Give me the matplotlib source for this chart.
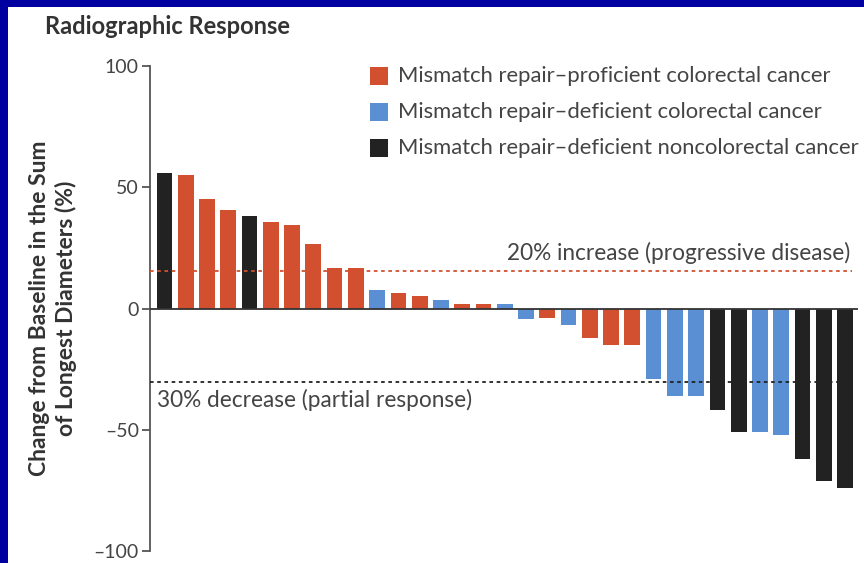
import matplotlib
matplotlib.use('agg')
import matplotlib.pyplot as plt
from matplotlib.patches import Rectangle

# ---- data ----
groups = ['Mismatch repair\u2013proficient colorectal cancer',
          'Mismatch repair\u2013deficient colorectal cancer',
          'Mismatch repair\u2013deficient noncolorectal cancer']
group_colors = ['#d2502f', '#5b8fd4', '#222222']

# 0 = proficient CRC, 1 = deficient CRC, 2 = deficient non-CRC
patient_group = [2, 0, 0, 0, 2, 0, 0, 0, 0, 0,
                 1, 0, 0, 1, 0, 0, 1, 1, 0, 1,
                 0, 0, 0, 1, 1, 1, 2, 2, 1, 1,
                 2, 2, 2]
change_pct = [56, 55, 45, 40.5, 38, 35.5, 34.5, 26.5, 16.5, 16.5,
              7.5, 6.2, 5, 3.3, 2, 2, 2, -4.5, -4, -7,
              -12, -15, -15, -29, -36, -36, -42, -51, -51, -52,
              -62, -71, -74]
yticks = [100, 50, 0, -50, -100]
increase_line = 15.5
decrease_line = -30.5

plt.rcParams['font.family'] = ['Lato', 'DejaVu Sans']

fig = plt.figure(figsize=(8.64, 5.63), dpi=100)
fig.patch.set_facecolor('#0000a0')
fig.patches.append(Rectangle((8 / 864, 0), 1, 1 - 7 / 563, transform=fig.transFigure,
                             facecolor='white', edgecolor='none', zorder=-5))

ax = fig.add_axes([150 / 864, 1 - 551 / 563, 708 / 864, 485 / 563])
ax.set_facecolor('none')

x = list(range(len(change_pct)))
colors = [group_colors[g] for g in patient_group]
ax.bar(x, change_pct, width=0.74, color=colors, zorder=2)

ax.set_xlim(-0.68, 32.61)
ax.set_ylim(-100, 100)
ax.axhline(0, color='#333333', lw=1.3, zorder=3)
ax.hlines(increase_line, -0.68, 32.35, colors='#d2502f', linestyles=(0, (2, 2)), lw=1.3, zorder=3)
ax.hlines(decrease_line, -0.68, 32.35, colors='#222222', linestyles=(0, (2, 2)), lw=1.3, zorder=3)

ax.text(32.25, increase_line + 3, '20% increase (progressive disease)', ha='right', va='bottom',
        fontsize=16.3, color='#444444')
ax.text(-0.35, decrease_line - 2.5, '30% decrease (partial response)', ha='left', va='top',
        fontsize=16.3, color='#444444')

for s in ['top', 'right', 'bottom']:
    ax.spines[s].set_visible(False)
ax.spines['left'].set_color('#555555')
ax.spines['left'].set_linewidth(1.3)
ax.set_xticks([])
ax.set_yticks(yticks)
ax.set_yticklabels([str(t).replace('-', '\u2013') for t in yticks], fontsize=14, color='#444444')
ax.tick_params(axis='y', length=6, width=1.3, color='#555555', pad=2)

ax.set_ylabel('Change from Baseline in the Sum\nof Longest Diameters (%)', fontsize=16.5,
              fontweight='bold', color='#333333', labelpad=12, linespacing=1.25)

# legend as squares + text
for i, (name, c) in enumerate(zip(groups, group_colors)):
    yy = 1 - (76 + 36 * i) / 563
    fig.patches.append(Rectangle((370 / 864, yy - 9 / 563), 18 / 864, 18 / 563,
                                 transform=fig.transFigure, facecolor=c, edgecolor='none'))
    fig.text(398 / 864, yy, name, ha='left', va='center', fontsize=15.8, color='#444444')

fig.text(45 / 864, 1 - 27 / 563, 'Radiographic Response', ha='left', va='center',
         fontsize=17, fontweight='bold', color='#333333')

fig.savefig('out.png', dpi=100, facecolor=fig.get_facecolor())
